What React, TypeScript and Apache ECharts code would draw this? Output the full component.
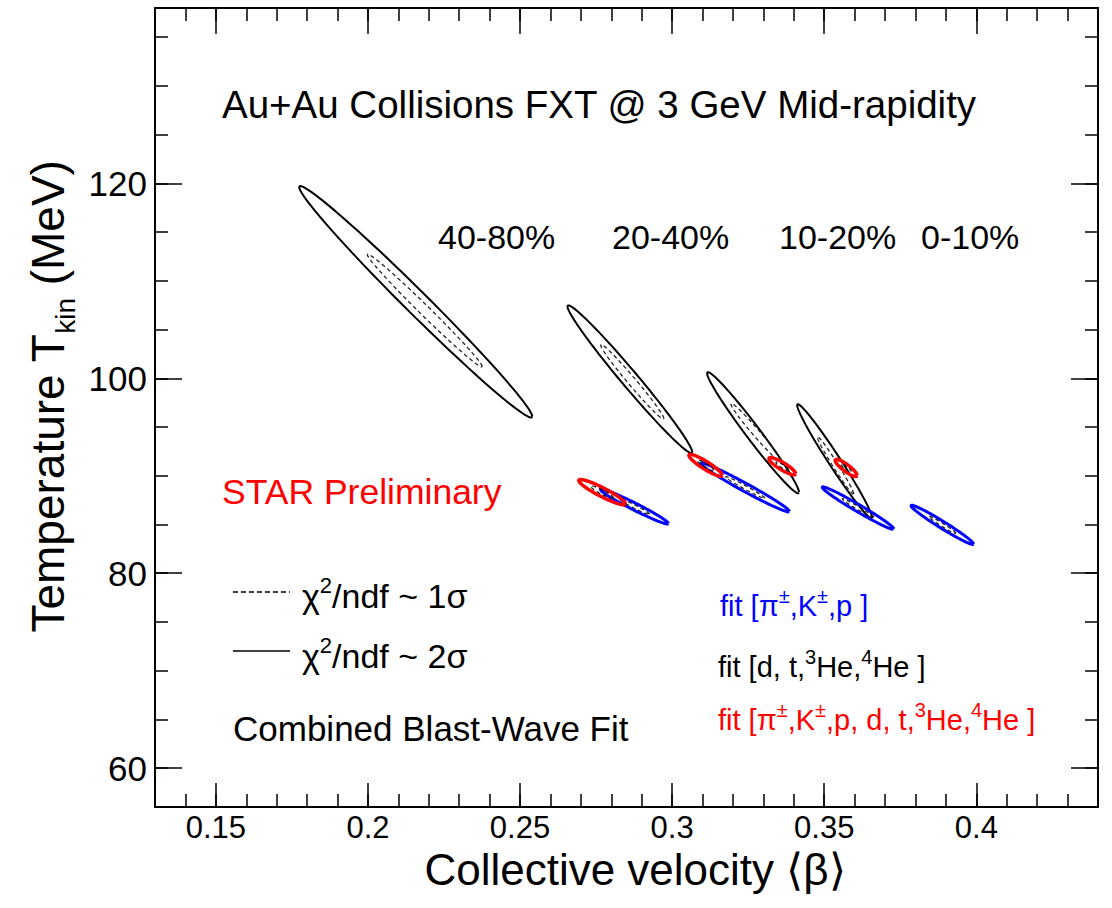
import React, { useEffect, useRef } from "react";
import * as echarts from "echarts";

const FONT = "'Liberation Sans', Arial, Helvetica, sans-serif";

// axis ticks
const xMajorTicks = [0.15, 0.2, 0.25, 0.3, 0.35, 0.4];
const xMinorTicks = [0.14, 0.15, 0.16, 0.17, 0.18, 0.19, 0.2, 0.21, 0.22, 0.23, 0.24, 0.25, 0.26, 0.27, 0.28, 0.29, 0.3, 0.31, 0.32, 0.33, 0.34, 0.35, 0.36, 0.37, 0.38, 0.39, 0.4, 0.41, 0.42, 0.43];
const yMajorTicks = [60, 80, 100, 120];
const yMinorTicks = [60, 65, 70, 75, 80, 85, 90, 95, 100, 105, 110, 115, 120, 125, 130, 135];

const centralities = ["40-80%", "20-40%", "10-20%", "0-10%"];

// Contours: center (beta, T), half-axis vector (dBeta, dT), vertical half-thickness h (MeV)
// light nuclei fit [d, t, 3He, 4He] (black)
const lnBeta2 = [0.2157, 0.2861, 0.3266, 0.3534];
const lnT2 = [107.85, 99.9, 94.41, 91.49];
const lnDBeta2 = [0.0383, 0.0205, 0.0151, 0.0123];
const lnDT2 = [-11.76, -7.47, -6.1, -5.75];
const lnH2 = [1.65, 1.3, 1.2, 1.1];
const lnBeta1 = [0.2187, 0.2869, 0.3275, 0.3537];
const lnT1 = [106.94, 99.64, 94.45, 91.06];
const lnDBeta1 = [0.0189, 0.0104, 0.0082, 0.006];
const lnDT1 = [-5.75, -3.78, -2.92, -2.92];
const lnH1 = [0.72, 0.63, 0.55, 0.5];

// light hadrons fit [pi, K, p] (blue)
const lhBeta2 = [0.2876, 0.324, 0.3611, 0.3888];
const lhT2 = [86.84, 88.8, 86.68, 84.96];
const lhDBeta2 = [0.0112, 0.0146, 0.0118, 0.0103];
const lhDT2 = [-1.75, -2.47, -2.14, -1.97];
const lhH2 = [0.4, 0.47, 0.42, 0.42];
const lhBeta1 = [0.2876, 0.324, 0.3611, 0.3888];
const lhT1 = [86.84, 88.8, 86.68, 84.96];
const lhDBeta1 = [0.005, 0.0065, 0.0052, 0.0045];
const lhDT1 = [-0.78, -1.1, -0.95, -0.87];
const lhH1 = [0.18, 0.2, 0.18, 0.18];

// combined fit (red)
const allBeta2 = [0.277, 0.311, 0.3362, 0.3572];
const allT2 = [88.31, 91.06, 90.98, 90.8];
const allDBeta2 = [0.0077, 0.0055, 0.0044, 0.0036];
const allDT2 = [-1.2, -1.03, -0.77, -0.77];
const allH2 = [0.5, 0.46, 0.43, 0.43];
const allBeta1 = [0.277, 0.311, 0.3362, 0.3572];
const allT1 = [88.31, 91.06, 90.98, 90.8];
const allDBeta1 = [0.0038, 0.0027, 0.0021, 0.0017];
const allDT1 = [-0.6, -0.5, -0.38, -0.38];
const allH1 = [0.24, 0.22, 0.2, 0.2];

function contour(cb: number, ct: number, db: number, dt: number, h: number) {
  const pts: number[][] = [];
  const n = 120;
  for (let i = 0; i <= n; i++) {
    const t = (2 * Math.PI * i) / n;
    pts.push([cb + db * Math.cos(t), ct + dt * Math.cos(t) + h * Math.sin(t)]);
  }
  return pts;
}

function makeSeries(
  name: string,
  b: number[], t: number[], db: number[], dt: number[], h: number[],
  color: string, width: number, dashed: boolean, z: number
) {
  return b.map((_, i) => ({
    type: "line",
    name: `${name} ${centralities[i]}`,
    data: contour(b[i], t[i], db[i], dt[i], h[i]),
    showSymbol: false,
    symbol: "none",
    silent: true,
    z,
    lineStyle: { color, width, type: dashed ? [4, 3] : "solid" },
  }));
}

export default function App() {
  const ref = useRef<HTMLDivElement>(null);
  useEffect(() => {
    if (!ref.current) return;
    const chart = echarts.init(ref.current, null, { renderer: "svg" });
    const axisLineStyle = { color: "#000", width: 2 };
    const xBase: any = {
      type: "value",
      min: 0.13,
      max: 0.44,
      splitLine: { show: false },
      axisLine: { show: true, onZero: false, lineStyle: axisLineStyle },
      nameMoveOverlap: false,
    };
    const yBase: any = {
      type: "value",
      min: 56,
      max: 138,
      splitLine: { show: false },
      axisLine: { show: true, onZero: false, lineStyle: axisLineStyle },
      nameMoveOverlap: false,
    };
    const tickStyle = { color: "#000", width: 1.5 };
    const supStyle = (fill: string, size: number) => ({ fontSize: size, fontFamily: FONT, fill, verticalAlign: "top" });
    const option: any = {
      animation: false,
      backgroundColor: "#fff",
      grid: { left: 155, right: 14, top: 8, bottom: 101, containLabel: false, outerBoundsMode: "none" },
      xAxis: [
        {
          ...xBase,
          position: "bottom",
          name: "Collective velocity \u27E8\u03B2\u27E9",
          nameLocation: "middle",
          nameGap: 40,
          nameTextStyle: { fontSize: 44, color: "#000", fontFamily: FONT, lineHeight: 44, padding: [0, 0, 0, 17] },
          axisTick: { inside: true, length: 24, customValues: xMajorTicks, lineStyle: tickStyle },
          axisLabel: { customValues: xMajorTicks, fontSize: 31, color: "#000", fontFamily: FONT, margin: 5, lineHeight: 30 },
        },
        {
          ...xBase,
          position: "top",
          axisTick: { inside: true, length: 26, customValues: xMajorTicks, lineStyle: tickStyle },
          axisLabel: { show: false },
        },
        {
          ...xBase,
          position: "bottom",
          axisLine: { show: false },
          axisTick: { inside: true, length: 13, customValues: xMinorTicks, lineStyle: tickStyle },
          axisLabel: { show: false },
        },
        {
          ...xBase,
          position: "top",
          axisLine: { show: false },
          axisTick: { inside: true, length: 13, customValues: xMinorTicks, lineStyle: tickStyle },
          axisLabel: { show: false },
        },
      ],
      yAxis: [
        {
          ...yBase,
          position: "left",
          name: "Temperature T{sub|kin} (MeV)",
          nameLocation: "middle",
          nameRotate: 90,
          nameGap: 76,
          nameTextStyle: {
            fontSize: 46,
            color: "#000",
            fontFamily: FONT,
            lineHeight: 62,
            padding: [0, 0, 0, 22],
            rich: {
              sub: { fontSize: 28, fontFamily: FONT, color: "#000", verticalAlign: "bottom", lineHeight: 28 },
            },
          },
          axisTick: { inside: true, length: 27, customValues: yMajorTicks, lineStyle: tickStyle },
          axisLabel: { customValues: yMajorTicks, fontSize: 35, color: "#000", fontFamily: FONT, margin: 8 },
        },
        {
          ...yBase,
          position: "right",
          axisTick: { inside: true, length: 27, customValues: yMajorTicks, lineStyle: tickStyle },
          axisLabel: { show: false },
        },
        {
          ...yBase,
          position: "left",
          axisLine: { show: false },
          axisTick: { inside: true, length: 13, customValues: yMinorTicks, lineStyle: tickStyle },
          axisLabel: { show: false },
        },
        {
          ...yBase,
          position: "right",
          axisLine: { show: false },
          axisTick: { inside: true, length: 13, customValues: yMinorTicks, lineStyle: tickStyle },
          axisLabel: { show: false },
        },
      ],
      series: [
        ...makeSeries("fit [d, t, 3He, 4He] 2σ", lnBeta2, lnT2, lnDBeta2, lnDT2, lnH2, "#000", 2, false, 2),
        ...makeSeries("fit [d, t, 3He, 4He] 1σ", lnBeta1, lnT1, lnDBeta1, lnDT1, lnH1, "#222", 1.3, true, 3),
        ...makeSeries("fit [π, K, p] 2σ", lhBeta2, lhT2, lhDBeta2, lhDT2, lhH2, "#0000ff", 3, false, 4),
        ...makeSeries("fit [π, K, p] 1σ", lhBeta1, lhT1, lhDBeta1, lhDT1, lhH1, "#111", 1.2, true, 5),
        ...makeSeries("fit all 2σ", allBeta2, allT2, allDBeta2, allDT2, allH2, "#ff0000", 3.5, false, 6),
        ...makeSeries("fit all 1σ", allBeta1, allT1, allDBeta1, allDT1, allH1, "#111", 1.2, true, 7),
      ],
      graphic: [
        { type: "text", left: 222, top: 85, style: { text: "Au+Au Collisions FXT @ 3 GeV Mid-rapidity", fontSize: 38.5, fontFamily: FONT, fill: "#000" } },
        ...centralities.map((c, i) => ({
          type: "text",
          left: [438, 612, 779, 921][i],
          top: 220,
          style: { text: c, fontSize: 34, fontFamily: FONT, fill: "#000" },
        })),
        { type: "text", left: 222, top: 474, style: { text: "STAR Preliminary", fontSize: 35.5, fontFamily: FONT, fill: "#ff0000" } },
        { type: "line", shape: { x1: 233, y1: 592, x2: 290, y2: 592 }, style: { stroke: "#000", lineWidth: 1.5, lineDash: [5, 3] } },
        { type: "line", shape: { x1: 233, y1: 651, x2: 290, y2: 651 }, style: { stroke: "#000", lineWidth: 1.5 } },
        {
          type: "text", left: 302, top: 574,
          style: { text: "χ{sup|2}/ndf ~ 1σ", fontSize: 34, fontFamily: FONT, fill: "#000", lineHeight: 44, rich: { sup: supStyle("#000", 22) } },
        },
        {
          type: "text", left: 302, top: 634,
          style: { text: "χ{sup|2}/ndf ~ 2σ", fontSize: 34, fontFamily: FONT, fill: "#000", lineHeight: 44, rich: { sup: supStyle("#000", 22) } },
        },
        { type: "text", left: 233, top: 711, style: { text: "Combined Blast-Wave Fit", fontSize: 35, fontFamily: FONT, fill: "#000" } },
        {
          type: "text", left: 720, top: 586,
          style: { text: "fit [π{sup|±},K{sup|±},p ]", fontSize: 29, fontFamily: FONT, fill: "#0000ff", lineHeight: 40, rich: { sup: supStyle("#0000ff", 20) } },
        },
        {
          type: "text", left: 718, top: 647,
          style: { text: "fit [d, t,{sup|3}He,{sup|4}He ]", fontSize: 29, fontFamily: FONT, fill: "#000", lineHeight: 40, rich: { sup: supStyle("#000", 20) } },
        },
        {
          type: "text", left: 718, top: 700,
          style: { text: "fit [π{sup|±},K{sup|±},p, d, t,{sup|3}He,{sup|4}He ]", fontSize: 29, fontFamily: FONT, fill: "#ff0000", lineHeight: 40, rich: { sup: supStyle("#ff0000", 20) } },
        },
      ],
    };
    chart.setOption(option);
    return () => chart.dispose();
  }, []);
  return <div ref={ref} style={{ position: "absolute", left: 0, top: 0, width: 1112, height: 908 }} />;
}
